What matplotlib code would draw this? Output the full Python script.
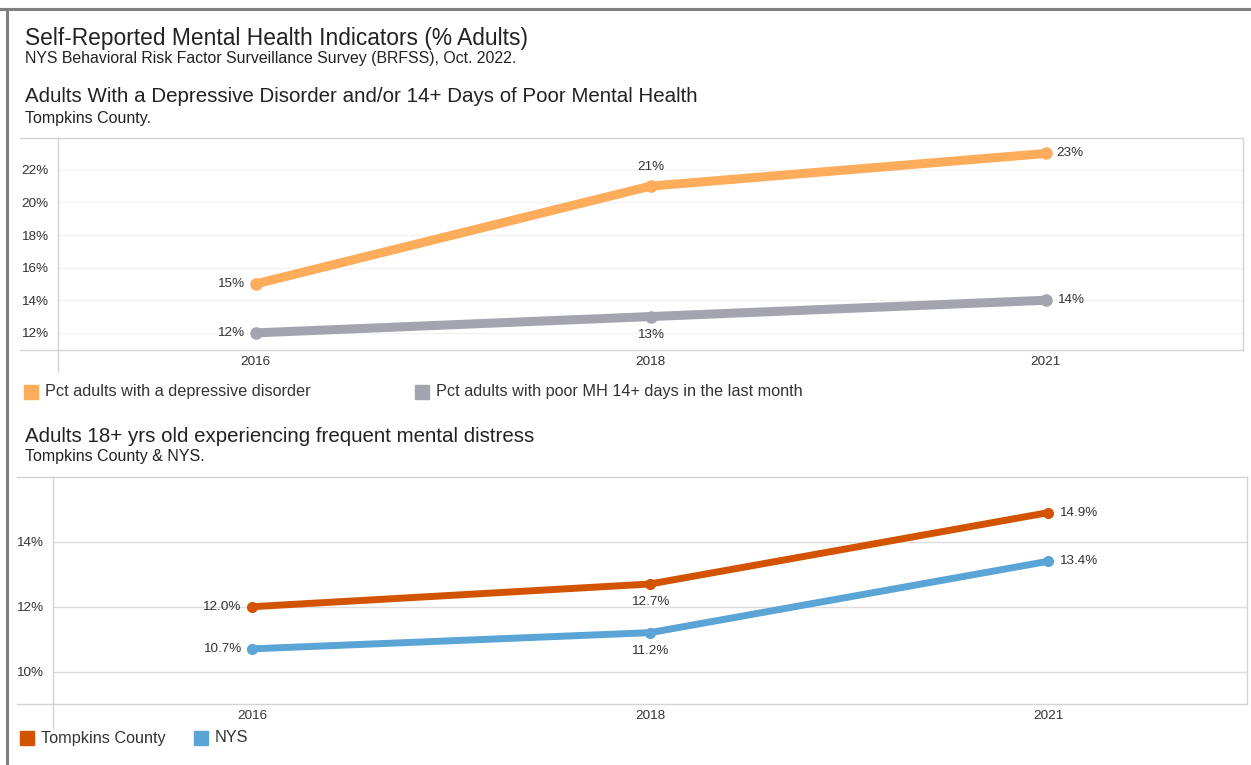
import matplotlib.pyplot as plt
from matplotlib.lines import Line2D
from matplotlib.patches import Rectangle

plt.rcParams['font.family'] = ['Liberation Sans', 'DejaVu Sans']

W, H = 1251, 765

years = ['2016', '2018', '2021']

# chart 1: Tompkins County, depressive disorder / poor mental health
depressive = [15, 21, 23]
poor_mh = [12, 13, 14]

# chart 2: frequent mental distress, Tompkins County vs NYS
tompkins = [12.0, 12.7, 14.9]
nys = [10.7, 11.2, 13.4]

top_ticks = [12, 14, 16, 18, 20, 22]
bottom_ticks = [10, 12, 14]

c_dep = '#fdac5b'
c_poor = '#a3a4b0'
c_tomp = '#d35400'
c_nys = '#5aa4d6'
txt = '#333333'


def px_axes(x0, y0, x1, y1):
    return [x0 / W, 1 - y1 / H, (x1 - x0) / W, (y1 - y0) / H]


def fig_line(xs, ys, color, lw=1.0):
    fig.add_artist(Line2D([x / W for x in xs], [1 - y / H for y in ys],
                          color=color, lw=lw, transform=fig.transFigure))


def legend_item(x, y, color, label):
    fig.add_artist(Rectangle((x / W, 1 - (y + 7) / H), 14 / W, 14 / H,
                             color=color, transform=fig.transFigure))
    fig.text((x + 21) / W, 1 - y / H, label, fontsize=11.7, color=txt,
             va='center', ha='left')


def style_axes(ax, ticks, grid_color, frame_color):
    ax.set_yticks(ticks)
    ax.set_yticklabels([f'{t}%' for t in ticks])
    ax.set_xticks(range(len(years)))
    ax.set_xticklabels(years)
    ax.set_xlim(-0.5, 2.5)
    ax.tick_params(length=0, labelsize=9.7, labelcolor=txt)
    ax.tick_params(axis='y', pad=7)
    ax.tick_params(axis='x', pad=4)
    ax.grid(axis='y', color=grid_color, lw=1)
    ax.set_axisbelow(True)
    for s in ax.spines.values():
        s.set_color(frame_color)
        s.set_linewidth(1)


def label_points(ax, vals, fmt, offsets):
    for i, (v, off) in enumerate(zip(vals, offsets)):
        ha = {'l': 'right', 'r': 'left', 'u': 'center', 'd': 'center'}[off]
        dx = {'l': -8, 'r': 8, 'u': 0, 'd': 0}[off]
        dy = {'l': 0, 'r': 0, 'u': 14, 'd': -13}[off]
        ax.annotate(fmt.format(v), (i, v), xytext=(dx, dy),
                    textcoords='offset points', ha=ha, va='center',
                    fontsize=9.7, color=txt)


fig = plt.figure(figsize=(W / 100, H / 100), dpi=100)

# outer frame
fig_line([0, W], [9, 9], '#7f7f7f', lw=2.2)
fig_line([7, 7], [9, H], '#7f7f7f', lw=2.2)

fig.text(25 / W, 1 - 38 / H, 'Self-Reported Mental Health Indicators (% Adults)',
         fontsize=16.4, color='#222222', va='center')
fig.text(25 / W, 1 - 59 / H,
         'NYS Behavioral Risk Factor Surveillance Survey (BRFSS), Oct. 2022.',
         fontsize=11.4, color='#222222', va='center')

# --- top chart ---
fig.text(25 / W, 1 - 97 / H,
         'Adults With a Depressive Disorder and/or 14+ Days of Poor Mental Health',
         fontsize=14.8, color='#222222', va='center')
fig.text(25 / W, 1 - 118 / H, 'Tompkins County.', fontsize=11.5,
         color='#222222', va='center')

ax1 = fig.add_axes(px_axes(58, 138, 1243, 350))
ax1.plot(range(3), depressive, color=c_dep, lw=6.5, marker='o', ms=8,
         solid_capstyle='round')
ax1.plot(range(3), poor_mh, color=c_poor, lw=6.5, marker='o', ms=8,
         solid_capstyle='round')
ax1.set_ylim(10.95, 23.95)
style_axes(ax1, top_ticks, '#f3f3f3', '#d4d4d4')
label_points(ax1, depressive, '{}%', ['l', 'u', 'r'])
label_points(ax1, poor_mh, '{}%', ['l', 'd', 'r'])
fig_line([20, 58], [138, 138], '#d4d4d4')
fig_line([20, 58], [350, 350], '#d4d4d4')
fig_line([58, 58], [350, 372], '#d4d4d4')

legend_item(24, 392, c_dep, 'Pct adults with a depressive disorder')
legend_item(415, 392, c_poor, 'Pct adults with poor MH 14+ days in the last month')

# --- bottom chart ---
fig.text(25 / W, 1 - 437 / H,
         'Adults 18+ yrs old experiencing frequent mental distress',
         fontsize=14.8, color='#222222', va='center')
fig.text(25 / W, 1 - 457 / H, 'Tompkins County & NYS.', fontsize=11.5,
         color='#222222', va='center')

ax2 = fig.add_axes(px_axes(53, 477, 1247, 704))
ax2.plot(range(3), tompkins, color=c_tomp, lw=5, marker='o', ms=7,
         solid_capstyle='round')
ax2.plot(range(3), nys, color=c_nys, lw=5, marker='o', ms=7,
         solid_capstyle='round')
ax2.set_ylim(9, 16)
style_axes(ax2, bottom_ticks, '#dcdcdc', '#d4d4d4')
label_points(ax2, tompkins, '{:.1f}%', ['l', 'd', 'r'])
label_points(ax2, nys, '{:.1f}%', ['l', 'd', 'r'])
fig_line([17, 53], [477, 477], '#d4d4d4')
fig_line([17, 53], [704, 704], '#d4d4d4')
fig_line([53, 53], [704, 728], '#d4d4d4')

legend_item(20, 738, c_tomp, 'Tompkins County')
legend_item(194, 738, c_nys, 'NYS')

fig.savefig('out.png', dpi=100)
